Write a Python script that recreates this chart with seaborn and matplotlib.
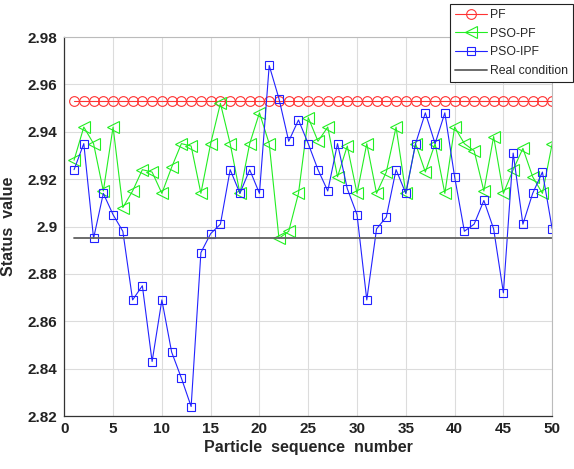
import numpy as np
import pandas as pd
import matplotlib
matplotlib.use("Agg")
import matplotlib.pyplot as plt
import seaborn as sns
from matplotlib.ticker import FuncFormatter

particles = list(range(1, 51))
pf_value = 2.953
real_value = 2.895
pso_pf = [2.928, 2.942, 2.935, 2.915, 2.942, 2.908, 2.915, 2.924, 2.923, 2.914,
          2.925, 2.935, 2.934, 2.914, 2.935, 2.952, 2.935, 2.914, 2.935, 2.948,
          2.935, 2.895, 2.898, 2.914, 2.946, 2.936, 2.942, 2.921, 2.934, 2.914,
          2.935, 2.914, 2.923, 2.942, 2.914, 2.935, 2.923, 2.935, 2.914, 2.942,
          2.935, 2.932, 2.915, 2.938, 2.914, 2.924, 2.933, 2.921, 2.914, 2.935]
pso_ipf = [2.924, 2.935, 2.895, 2.914, 2.905, 2.898, 2.869, 2.875, 2.843, 2.869,
           2.847, 2.836, 2.824, 2.889, 2.897, 2.901, 2.924, 2.914, 2.924, 2.914,
           2.968, 2.954, 2.936, 2.945, 2.935, 2.924, 2.915, 2.935, 2.916, 2.905,
           2.869, 2.899, 2.904, 2.924, 2.914, 2.935, 2.948, 2.935, 2.948, 2.921,
           2.898, 2.901, 2.911, 2.899, 2.872, 2.931, 2.901, 2.914, 2.923, 2.899]
series_names = ["PF", "PSO-PF", "PSO-IPF", "Real condition"]
x_ticks = [0, 5, 10, 15, 20, 25, 30, 35, 40, 45, 50]
y_ticks = [2.82, 2.84, 2.86, 2.88, 2.90, 2.92, 2.94, 2.96, 2.98]

sns.set_style("white")
plt.rcParams['font.family'] = ['Liberation Sans', 'DejaVu Sans']

fig = plt.figure(figsize=(5.74, 4.69), dpi=100)
ax = fig.add_axes([0.112, 0.113, 0.85, 0.808])

df = pd.DataFrame({"x": particles, "PF": [pf_value] * len(particles),
                   "PSO-PF": pso_pf, "PSO-IPF": pso_ipf})

sns.lineplot(data=df, x="x", y="PF", ax=ax, color="#ff3333", lw=0.8,
             marker="o", markersize=7, markerfacecolor="none",
             markeredgecolor="#ff3333", markeredgewidth=0.8, label=series_names[0])
sns.lineplot(data=df, x="x", y="PSO-PF", ax=ax, color="#22ee22", lw=0.8,
             marker="<", markersize=8, markerfacecolor="none",
             markeredgecolor="#22ee22", markeredgewidth=0.8, label=series_names[1])
sns.lineplot(data=df, x="x", y="PSO-IPF", ax=ax, color="#2222ff", lw=0.8,
             marker="s", markersize=5.5, markerfacecolor="none",
             markeredgecolor="#2222ff", markeredgewidth=0.8, label=series_names[2])
ax.axhline(real_value, xmin=1 / 50, xmax=1.0, color="#606060", lw=1.3,
           label=series_names[3])

ax.set_xlim(0, 50)
ax.set_ylim(2.82, 2.98)
ax.set_xticks(x_ticks)
ax.set_yticks(y_ticks)
ax.yaxis.set_major_formatter(FuncFormatter(lambda v, p: f"{v:g}" if abs(v - 2.9) > 1e-9 else "2.9"))
ax.grid(True, color="#dcdcdc", lw=0.8)
for lab in ax.get_xticklabels() + ax.get_yticklabels():
    lab.set_fontweight("bold")
    lab.set_fontsize(11)
ax.tick_params(axis="both", direction="in", length=3, width=0.8, colors="#222222",
               pad=4)
ax.tick_params(axis="y", pad=5)
for s in ["left", "bottom"]:
    ax.spines[s].set_color("#333333")
    ax.spines[s].set_linewidth(0.9)
for s in ["top", "right"]:
    ax.spines[s].set_color("#bbbbbb")
    ax.spines[s].set_linewidth(0.8)

ax.set_xlabel("Particle  sequence  number", fontsize=11.5, fontweight="bold", labelpad=3)
ax.set_ylabel("Status  value", fontsize=11.5, fontweight="bold", labelpad=8)

leg = ax.legend(loc="upper left", bbox_to_anchor=(450 / 574, 1 - 4 / 469),
                bbox_transform=fig.transFigure, fontsize=8.8, frameon=True,
                fancybox=False, framealpha=1, edgecolor="#222222",
                borderpad=0.4, labelspacing=0.55, handlelength=2.6,
                handletextpad=0.25, borderaxespad=0)
leg.get_frame().set_linewidth(0.8)

fig.savefig("out.png", dpi=100)
